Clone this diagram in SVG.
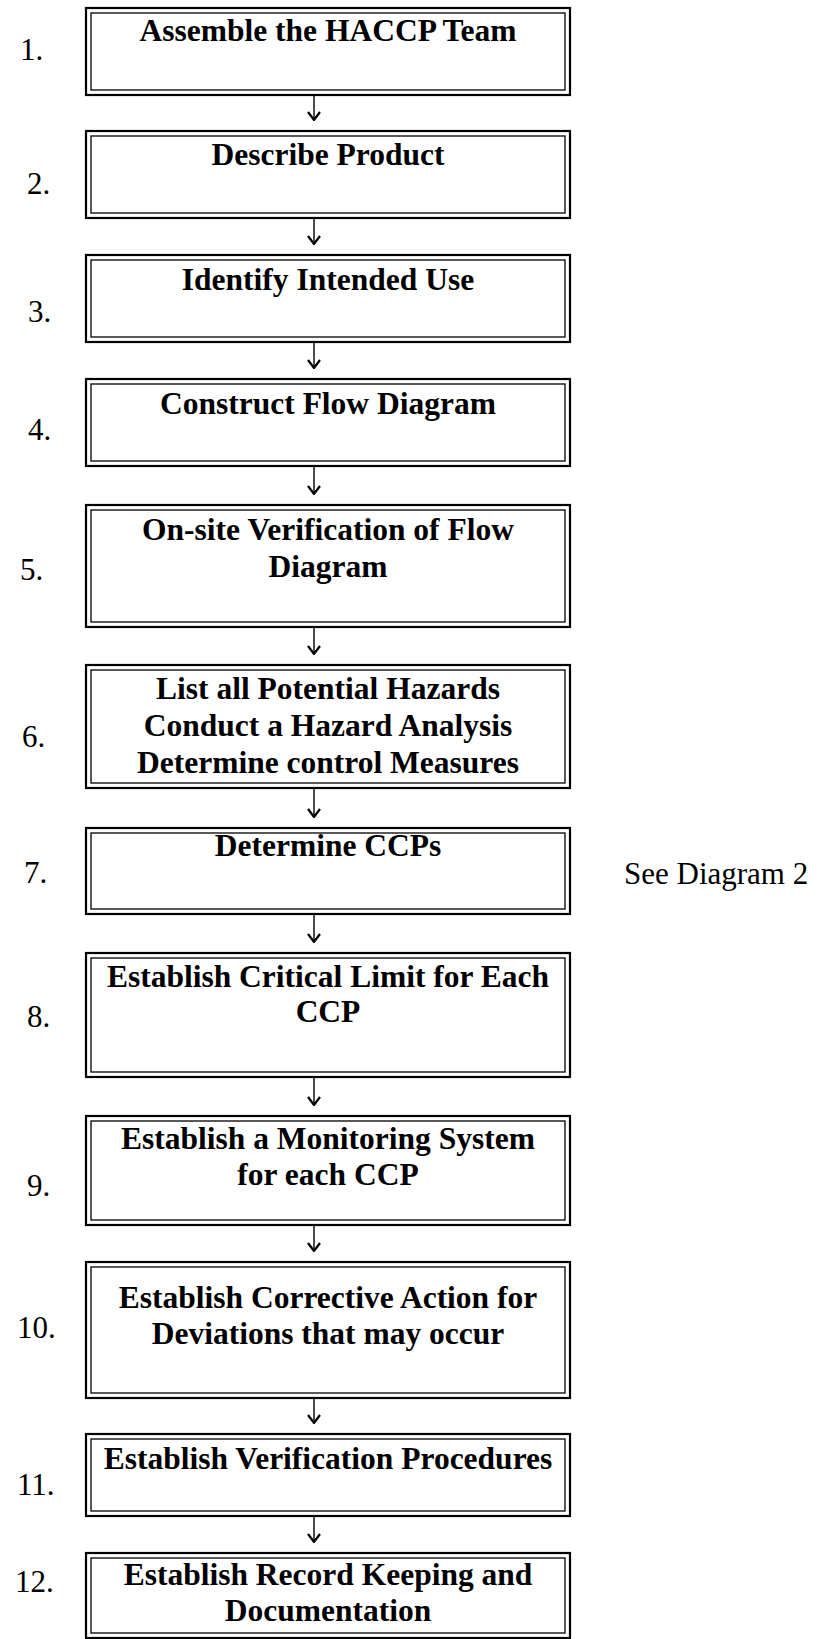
<svg xmlns="http://www.w3.org/2000/svg" width="820" height="1639" viewBox="0 0 820 1639">
<style>
.bg{fill:#fff}
.o{fill:none;stroke:#000;stroke-width:2.2}
.i{fill:none;stroke:#000;stroke-width:1.3}
.t{font-family:"Liberation Serif","Times New Roman",serif;font-weight:bold;font-size:31.5px;fill:#000;text-anchor:middle}
.n{font-family:"Liberation Serif","Times New Roman",serif;font-size:31px;fill:#000}
.c{stroke:#000;stroke-width:1.4;fill:none;marker-end:url(#ah)}
</style>
<defs>
<marker id="ah" viewBox="0 0 10 14" refX="9" refY="7" markerWidth="10" markerHeight="14" markerUnits="userSpaceOnUse" orient="auto">
<path d="M1,1 L9,7 L1,13" fill="none" stroke="#000" stroke-width="2.2"/>
</marker>
</defs>
<rect class="bg" x="0" y="0" width="820" height="1639"/>
<g id="connectors">
<line class="c" x1="314" y1="95" x2="314" y2="120"/>
<line class="c" x1="314" y1="218" x2="314" y2="244"/>
<line class="c" x1="314" y1="342" x2="314" y2="368"/>
<line class="c" x1="314" y1="466" x2="314" y2="494"/>
<line class="c" x1="314" y1="627" x2="314" y2="654"/>
<line class="c" x1="314" y1="788" x2="314" y2="817"/>
<line class="c" x1="314" y1="914" x2="314" y2="942"/>
<line class="c" x1="314" y1="1077" x2="314" y2="1105"/>
<line class="c" x1="314" y1="1225" x2="314" y2="1251"/>
<line class="c" x1="314" y1="1398" x2="314" y2="1423"/>
<line class="c" x1="314" y1="1516" x2="314" y2="1542"/>
</g>
<g id="step1">
<rect class="o" x="86" y="8" width="484" height="87"/><rect class="i" x="91" y="13" width="474" height="77"/>
<text class="t" x="328" y="41">Assemble the HACCP Team</text>
<text class="n" x="20" y="60">1.</text>
</g>
<g id="step2">
<rect class="o" x="86" y="131" width="484" height="87"/><rect class="i" x="91" y="136" width="474" height="77"/>
<text class="t" x="328" y="165">Describe Product</text>
<text class="n" x="27" y="194">2.</text>
</g>
<g id="step3">
<rect class="o" x="86" y="255" width="484" height="87"/><rect class="i" x="91" y="260" width="474" height="77"/>
<text class="t" x="328" y="290">Identify Intended Use</text>
<text class="n" x="28" y="322">3.</text>
</g>
<g id="step4">
<rect class="o" x="86" y="379" width="484" height="87"/><rect class="i" x="91" y="384" width="474" height="77"/>
<text class="t" x="328" y="414">Construct Flow Diagram</text>
<text class="n" x="28" y="440">4.</text>
</g>
<g id="step5">
<rect class="o" x="86" y="505" width="484" height="122"/><rect class="i" x="91" y="510" width="474" height="112"/>
<text class="t" x="328" y="540">On-site Verification of Flow</text>
<text class="t" x="328" y="577">Diagram</text>
<text class="n" x="20" y="580">5.</text>
</g>
<g id="step6">
<rect class="o" x="86" y="665" width="484" height="123"/><rect class="i" x="91" y="670" width="474" height="113"/>
<text class="t" x="328" y="699">List all Potential Hazards</text>
<text class="t" x="328" y="736">Conduct a Hazard Analysis</text>
<text class="t" x="328" y="773">Determine control Measures</text>
<text class="n" x="22" y="747">6.</text>
</g>
<g id="step7">
<rect class="o" x="86" y="828" width="484" height="86"/><rect class="i" x="91" y="833" width="474" height="76"/>
<text class="t" x="328" y="856">Determine CCPs</text>
<text class="n" x="24" y="883">7.</text>
</g>
<text class="n" x="624" y="884">See Diagram 2</text>
<g id="step8">
<rect class="o" x="86" y="953" width="484" height="124"/><rect class="i" x="91" y="958" width="474" height="114"/>
<text class="t" x="328" y="987">Establish Critical Limit for Each</text>
<text class="t" x="328" y="1022">CCP</text>
<text class="n" x="27" y="1027">8.</text>
</g>
<g id="step9">
<rect class="o" x="86" y="1116" width="484" height="109"/><rect class="i" x="91" y="1121" width="474" height="99"/>
<text class="t" x="328" y="1149">Establish a Monitoring System</text>
<text class="t" x="328" y="1185">for each CCP</text>
<text class="n" x="27" y="1196">9.</text>
</g>
<g id="step10">
<rect class="o" x="86" y="1262" width="484" height="136"/><rect class="i" x="91" y="1267" width="474" height="126"/>
<text class="t" x="328" y="1308">Establish Corrective Action for</text>
<text class="t" x="328" y="1344">Deviations that may occur</text>
<text class="n" x="17" y="1338">10.</text>
</g>
<g id="step11">
<rect class="o" x="86" y="1434" width="484" height="82"/><rect class="i" x="91" y="1439" width="474" height="72"/>
<text class="t" x="328" y="1469">Establish Verification Procedures</text>
<text class="n" x="17" y="1495">11.</text>
</g>
<g id="step12">
<rect class="o" x="86" y="1553" width="484" height="85"/><rect class="i" x="91" y="1558" width="474" height="75"/>
<text class="t" x="328" y="1585">Establish Record Keeping and</text>
<text class="t" x="328" y="1621">Documentation</text>
<text class="n" x="15" y="1592">12.</text>
</g>
</svg>
